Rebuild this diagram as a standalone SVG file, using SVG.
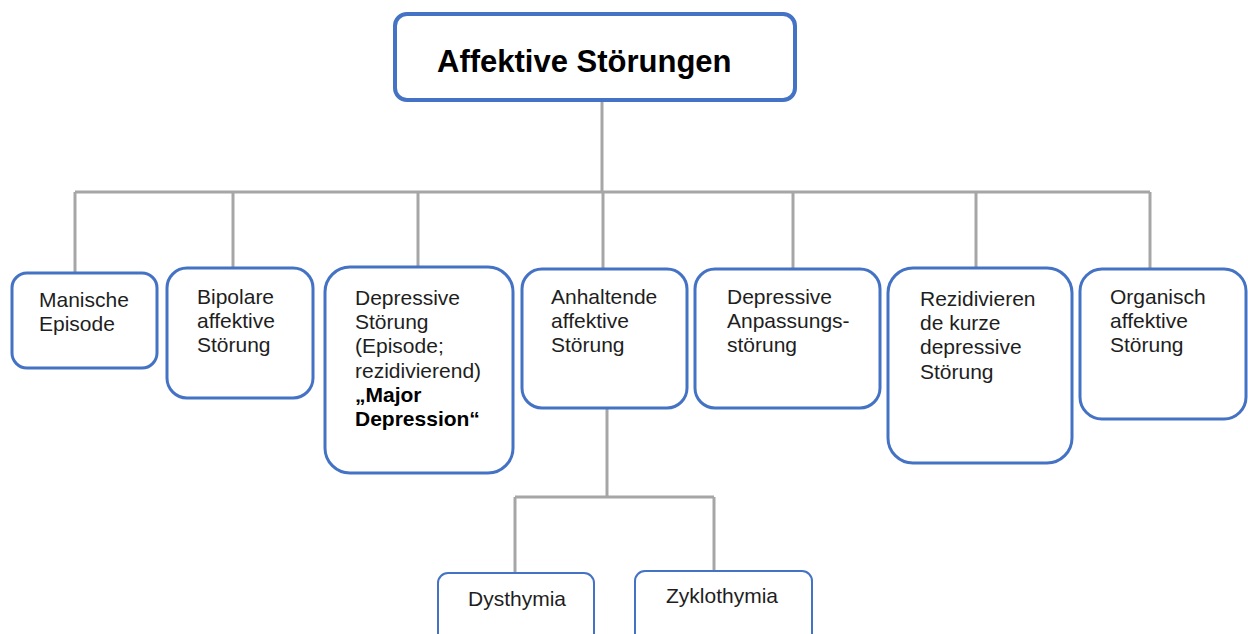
<svg xmlns="http://www.w3.org/2000/svg" width="1248" height="634" viewBox="0 0 1248 634">
  <style>
    .box { fill: #ffffff; stroke: #4472c4; stroke-width: 3; }
    .box-top { fill: #ffffff; stroke: #4472c4; stroke-width: 4; }
    .box-thin { fill: #ffffff; stroke: #4472c4; stroke-width: 2; }
    .lbl { font-family: "Liberation Sans", Arial, sans-serif; font-size: 21px; fill: #1e1e1e; }
    .b { font-weight: bold; fill: #000000; }
    .title { font-family: "Liberation Sans", Arial, sans-serif; font-size: 31px; font-weight: bold; fill: #000000; }
    .conn { fill: none; stroke: #a6a6a6; stroke-width: 3; }
  </style>
  <rect width="1248" height="634" fill="#ffffff"/>

  <!-- connectors -->
  <g id="connectors" class="conn">
    <path d="M602 100 V192"/>
    <path d="M75 192 H1150"/>
    <path d="M75 192 V272"/>
    <path d="M233 192 V268"/>
    <path d="M418 192 V267"/>
    <path d="M603 192 V269"/>
    <path d="M793 192 V269"/>
    <path d="M976 192 V268"/>
    <path d="M1150 192 V269"/>
    <path d="M607 408 V497"/>
    <path d="M515 497 H714"/>
    <path d="M515 497 V573"/>
    <path d="M714 497 V571"/>
  </g>

  <!-- root -->
  <g id="root">
    <rect class="box-top" x="395" y="14" width="400" height="86" rx="12"/>
    <text class="title" x="437" y="72">Affektive Störungen</text>
  </g>

  <g id="manische-episode">
    <rect class="box" x="12" y="273" width="145" height="95" rx="15"/>
    <text class="lbl" x="39" y="307">Manische</text>
    <text class="lbl" x="39" y="331">Episode</text>
  </g>

  <g id="bipolare-stoerung">
    <rect class="box" x="167" y="268" width="146" height="130" rx="20"/>
    <text class="lbl" x="197" y="304">Bipolare</text>
    <text class="lbl" x="197" y="328">affektive</text>
    <text class="lbl" x="197" y="352">Störung</text>
  </g>

  <g id="depressive-stoerung">
    <rect class="box" x="325" y="267" width="188" height="206" rx="25"/>
    <text class="lbl" x="355" y="305">Depressive</text>
    <text class="lbl" x="355" y="329">Störung</text>
    <text class="lbl" x="355" y="353">(Episode;</text>
    <text class="lbl" x="355" y="378">rezidivierend)</text>
    <text class="lbl b" x="355" y="402">„Major</text>
    <text class="lbl b" x="355" y="426">Depression“</text>
  </g>

  <g id="anhaltende-stoerung">
    <rect class="box" x="522" y="269" width="165" height="139" rx="20"/>
    <text class="lbl" x="551" y="304">Anhaltende</text>
    <text class="lbl" x="551" y="328">affektive</text>
    <text class="lbl" x="551" y="352">Störung</text>
  </g>

  <g id="anpassungsstoerung">
    <rect class="box" x="695" y="269" width="185" height="139" rx="20"/>
    <text class="lbl" x="727" y="304">Depressive</text>
    <text class="lbl" x="727" y="328">Anpassungs-</text>
    <text class="lbl" x="727" y="352">störung</text>
  </g>

  <g id="rezidivierende-stoerung">
    <rect class="box" x="888" y="268" width="184" height="195" rx="25"/>
    <text class="lbl" x="920" y="306">Rezidivieren</text>
    <text class="lbl" x="920" y="330">de kurze</text>
    <text class="lbl" x="920" y="354">depressive</text>
    <text class="lbl" x="920" y="379">Störung</text>
  </g>

  <g id="organische-stoerung">
    <rect class="box" x="1080" y="269" width="166" height="150" rx="22"/>
    <text class="lbl" x="1110" y="304">Organisch</text>
    <text class="lbl" x="1110" y="328">affektive</text>
    <text class="lbl" x="1110" y="352">Störung</text>
  </g>

  <g id="dysthymia">
    <rect class="box-thin" x="438" y="573" width="156" height="80" rx="10"/>
    <text class="lbl" x="468" y="606">Dysthymia</text>
  </g>

  <g id="zyklothymia">
    <rect class="box-thin" x="635" y="571" width="177" height="80" rx="10"/>
    <text class="lbl" x="666" y="603">Zyklothymia</text>
  </g>
</svg>
